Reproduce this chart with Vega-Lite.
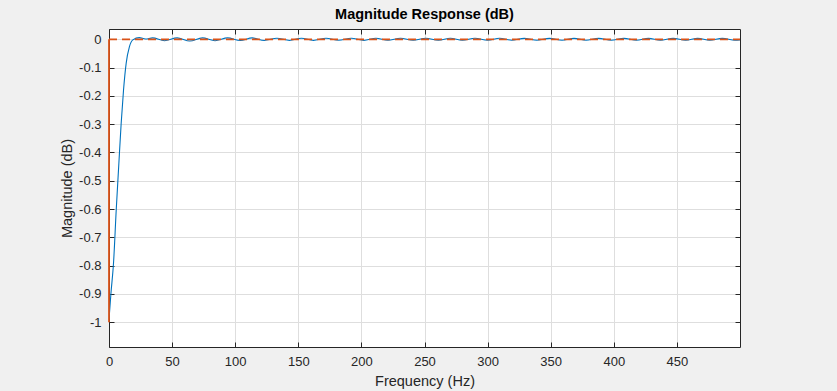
{
  "$schema": "https://vega.github.io/schema/vega-lite/v6.json",
  "width": 631,
  "height": 318,
  "autosize": {"type": "none"},
  "padding": {"left": 109, "top": 29, "right": 97, "bottom": 44},
  "background": "#f0f0f0",
  "title": {"text": "Magnitude Response (dB)", "font": "Liberation Sans", "fontSize": 14.5, "fontWeight": "bold", "color": "#000000", "anchor": "middle", "offset": 6},
  "config": {
    "view": {"fill": "#ffffff", "stroke": null},
    "axis": {
      "labelFont": "Liberation Sans", "labelFontSize": 13, "labelColor": "#262626",
      "titleFont": "Liberation Sans", "titleFontSize": 14.5, "titleFontWeight": "normal", "titleColor": "#262626",
      "domainColor": "#262626", "domainWidth": 1, "tickColor": "#262626", "tickWidth": 1,
      "gridColor": "#dedede", "gridWidth": 1, "gridOpacity": 1
    }
  },
  "datasets": {
    "resp": [
      {"f": 0, "db": -0.99}, {"f": 1.5, "db": -0.9}, {"f": 3.6, "db": -0.79}, {"f": 5.7, "db": -0.605},
      {"f": 7.8, "db": -0.44}, {"f": 9.6, "db": -0.3}, {"f": 11.5, "db": -0.18}, {"f": 13.6, "db": -0.085},
      {"f": 16.2, "db": -0.026}, {"f": 18.9, "db": -0.002}, {"f": 24, "db": 0.006}, {"f": 29, "db": 0.001},
      {"f": 34.5, "db": 0.005}, {"f": 44, "db": -0.005}, {"f": 54, "db": 0.005}, {"f": 64, "db": -0.006},
      {"f": 74, "db": 0.005}, {"f": 84, "db": -0.005}, {"f": 94, "db": 0.005}, {"f": 104, "db": -0.004},
      {"f": 113.5, "db": 0.005}, {"f": 123, "db": -0.004}, {"f": 133, "db": 0.004}, {"f": 143, "db": -0.004},
      {"f": 152.5, "db": 0.004}, {"f": 162, "db": -0.004}, {"f": 172, "db": 0.004}, {"f": 182, "db": -0.003},
      {"f": 192, "db": 0.004}, {"f": 202, "db": -0.004}, {"f": 211.5, "db": 0.004}, {"f": 221, "db": -0.003},
      {"f": 231, "db": 0.004}, {"f": 241, "db": -0.003}, {"f": 251, "db": 0.004}, {"f": 261, "db": -0.003},
      {"f": 270.5, "db": 0.004}, {"f": 280, "db": -0.003}, {"f": 290, "db": 0.004}, {"f": 300, "db": -0.003},
      {"f": 309.5, "db": 0.004}, {"f": 319, "db": -0.003}, {"f": 329, "db": 0.0035}, {"f": 339, "db": -0.003},
      {"f": 349, "db": 0.0035}, {"f": 359, "db": -0.003}, {"f": 368.5, "db": 0.0035}, {"f": 378, "db": -0.003},
      {"f": 388, "db": 0.0035}, {"f": 398, "db": -0.003}, {"f": 408, "db": 0.0035}, {"f": 418, "db": -0.003},
      {"f": 427.5, "db": 0.0035}, {"f": 437, "db": -0.003}, {"f": 447, "db": 0.0035}, {"f": 457, "db": -0.003},
      {"f": 466.5, "db": 0.0035}, {"f": 476, "db": -0.003}, {"f": 486, "db": 0.0035}, {"f": 496, "db": -0.003},
      {"f": 500, "db": -0.002}
    ],
    "maskv": [{"f": 0, "db": -1}, {"f": 0, "db": 0}],
    "maskh": [{"f": 0, "db": 0}, {"f": 500, "db": 0}]
  },
  "layer": [
    {
      "data": {"name": "resp"},
      "mark": {"type": "line", "color": "#0072BD", "strokeWidth": 1.1, "interpolate": "monotone", "clip": true},
      "encoding": {
        "x": {"field": "f", "type": "quantitative", "scale": {"domain": [0, 500], "nice": false, "zero": false},
          "axis": {"orient": "bottom", "title": "Frequency (Hz)", "values": [0, 50, 100, 150, 200, 250, 300, 350, 400, 450],
            "tickSize": -5, "labelPadding": 13, "titlePadding": 6, "grid": true, "labelFlush": false, "labelOverlap": false}},
        "y": {"field": "db", "type": "quantitative", "scale": {"domain": [-1.0875, 0.0365], "nice": false, "zero": false},
          "axis": {"orient": "left", "title": "Magnitude (dB)", "values": [-1, -0.9, -0.8, -0.7, -0.6, -0.5, -0.4, -0.3, -0.2, -0.1, 0],
            "labelExpr": "datum.value == 0 ? '0' : toString(round(datum.value * 10) / 10)", "zindex": 0,
            "tickSize": -5, "labelPadding": 13, "titlePadding": 4, "grid": true, "labelFlush": false, "labelOverlap": false}}
      }
    },
    {
      "data": {"name": "maskv"},
      "mark": {"type": "line", "color": "#D95319", "strokeWidth": 1.8, "clip": false},
      "encoding": {
        "x": {"field": "f", "type": "quantitative", "scale": {"domain": [0, 500], "nice": false, "zero": false}, "axis": null},
        "y": {"field": "db", "type": "quantitative", "scale": {"domain": [-1.0875, 0.0365], "nice": false, "zero": false}, "axis": null}
      }
    },
    {
      "data": {"name": "maskh"},
      "mark": {"type": "line", "color": "#D95319", "strokeWidth": 1.6, "strokeDash": [8, 5], "clip": true},
      "encoding": {
        "x": {"field": "f", "type": "quantitative", "scale": {"domain": [0, 500], "nice": false, "zero": false},
          "axis": {"orient": "top", "title": null, "labels": false, "values": [0, 50, 100, 150, 200, 250, 300, 350, 400, 450], "tickSize": -5, "grid": false}},
        "y": {"field": "db", "type": "quantitative", "scale": {"domain": [-1.0875, 0.0365], "nice": false, "zero": false},
          "axis": {"orient": "right", "title": null, "labels": false, "values": [-1, -0.9, -0.8, -0.7, -0.6, -0.5, -0.4, -0.3, -0.2, -0.1, 0], "tickSize": -5, "grid": false}}
      }
    }
  ],
  "resolve": {"axis": {"x": "independent", "y": "independent"}}
}
